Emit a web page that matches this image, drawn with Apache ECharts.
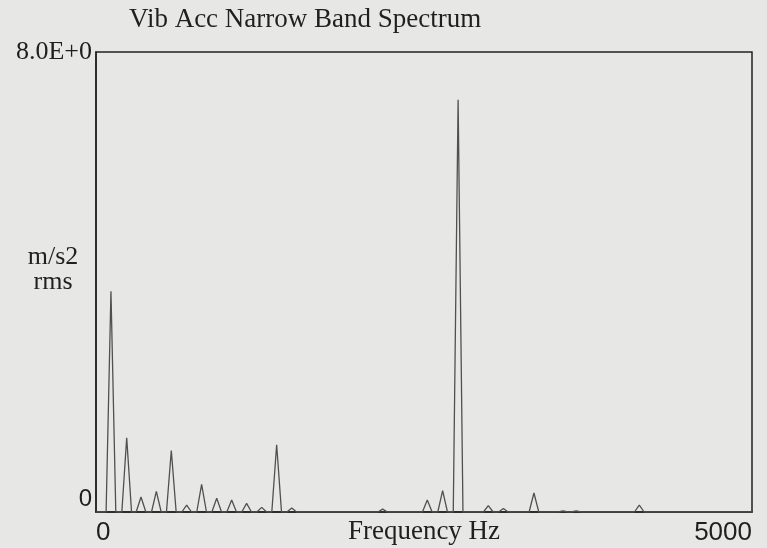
<!DOCTYPE html>
<html><head><meta charset="utf-8">
<script src="https://cdn.jsdelivr.net/npm/echarts@6/dist/echarts.min.js"></script>
<style>html,body{margin:0;padding:0;background:#e7e7e5;} #c{width:767px;height:548px;}</style>
</head><body><div id="c"></div>
<script>
// Spectral peaks (Hz, m/s2 rms)
const peakFreqs = [114, 234, 343, 460, 574, 691, 805, 920, 1034, 1148, 1263, 1377, 1492, 2185, 2525, 2642, 2760, 2990, 3105, 3338, 3560, 3660, 4141];
const peakAmps  = [3.84, 1.29, 0.26, 0.36, 1.07, 0.12, 0.48, 0.24, 0.21, 0.15, 0.08, 1.17, 0.07, 0.05, 0.21, 0.37, 7.17, 0.11, 0.06, 0.33, 0.02, 0.02, 0.12];
const xTicks = [0, 5000];
const yTicks = [0, 8];
const titleText = 'Vib Acc Narrow Band Spectrum';
const xName = 'Frequency Hz';
const yName = 'm/s2\nrms';
const yTopLabel = '8.0E+0';

const HALF = 37; // half base width of each peak, Hz
const pts = [[xTicks[0], 0]];
peakFreqs.forEach((f, i) => {
  pts.push([f - HALF, 0], [f, peakAmps[i]], [f + HALF, 0]);
});
pts.push([xTicks[1], 0]);

const chart = echarts.init(document.getElementById('c'), null, {renderer: 'canvas'});
const ink = '#1f1f1f';
chart.setOption({
  backgroundColor: '#e7e7e5',
  animation: false,
  title: {
    text: titleText, left: 129, top: 6, padding: 0,
    textStyle: {fontFamily: 'Liberation Serif', fontSize: 27, fontWeight: 'normal', color: ink}
  },
  grid: {left: 96, right: 15, top: 52, bottom: 36, containLabel: false, outerBoundsMode: 'none',
    show: true, borderColor: '#222', borderWidth: 1.5, backgroundColor: 'transparent'},
  xAxis: {
    type: 'value', min: xTicks[0], max: xTicks[1], interval: xTicks[1] - xTicks[0],
    axisLine: {show: true, lineStyle: {color: '#222', width: 1.5}},
    axisTick: {show: false}, splitLine: {show: false},
    axisLabel: {margin: 8, fontFamily: 'Liberation Sans', fontSize: 26, color: ink,
      alignMinLabel: 'left', alignMaxLabel: 'right', formatter: v => String(v)},
    name: xName, nameLocation: 'middle', nameGap: 6, nameMoveOverlap: false,
    nameTextStyle: {fontFamily: 'Liberation Serif', fontSize: 27, color: ink, verticalAlign: 'top'}
  },
  yAxis: {
    type: 'value', min: yTicks[0], max: yTicks[1], interval: yTicks[1] - yTicks[0],
    axisLine: {show: true, lineStyle: {color: '#222', width: 1.5}},
    axisTick: {show: false}, splitLine: {show: false},
    axisLabel: {
      margin: 4, color: ink,
      formatter: v => v === yTicks[0] ? '{z|' + v + '}' : '{t|' + yTopLabel + '}',
      rich: {
        z: {fontFamily: 'Liberation Sans', fontSize: 24, color: ink, padding: [0, 0, 26, 0]},
        t: {fontFamily: 'Liberation Serif', fontSize: 26, color: ink}
      }
    },
    name: yName + '\n', nameLocation: 'middle', nameRotate: 0, nameGap: 43, nameMoveOverlap: false,
    nameTextStyle: {fontFamily: 'Liberation Serif', fontSize: 26, lineHeight: 25, color: ink, align: 'center', verticalAlign: 'middle'}
  },
  series: [{
    type: 'line', data: pts, showSymbol: false, smooth: false,
    lineStyle: {color: '#505050', width: 1.3}
  }]
});
</script></body></html>
